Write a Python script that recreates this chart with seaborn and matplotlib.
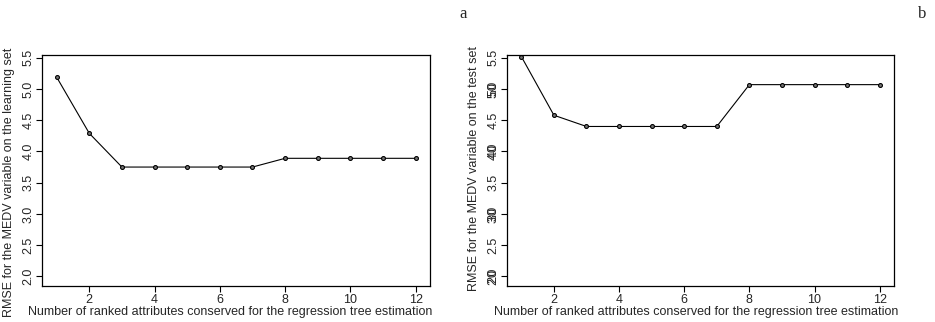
import matplotlib
matplotlib.use("Agg")
import matplotlib.pyplot as plt
import matplotlib.transforms as mtransforms
import seaborn as sns
import numpy as np
import pandas as pd

n_attributes = [1, 2, 3, 4, 5, 6, 7, 8, 9, 10, 11, 12]
rmse_learning = [5.19, 4.29, 3.75, 3.75, 3.75, 3.75, 3.75, 3.89, 3.89, 3.89, 3.89, 3.89]
rmse_test = [5.52, 4.58, 4.40, 4.40, 4.40, 4.40, 4.40, 5.07, 5.07, 5.07, 5.07, 5.07]
y_ticks = [2.0, 2.5, 3.0, 3.5, 4.0, 4.5, 5.0, 5.5]
y_ticklabels = ["2.0", "2.5", "3.0", "3.5", "4.0", "4.5", "5.0", "5.5"]
overlay_ticks = [2.0, 3.0, 4.0, 5.0]
overlay_labels = ["20", "30", "40", "50"]
x_ticks = [2, 4, 6, 8, 10, 12]
xlabel = "Number of ranked attributes conserved for the regression tree estimation"
ylabel_a = "RMSE for the MEDV variable on the learning set"
ylabel_b = "RMSE for the MEDV variable on the test set"

sns.set_style("ticks")
plt.rcParams["font.family"] = ["Liberation Sans", "DejaVu Sans"]

fig = plt.figure(figsize=(9.35, 3.22), dpi=100)
W, H = 935, 322
def axrect(l, r, t, b):
    return [l / W, (H - b) / H, (r - l) / W, (b - t) / H]

ax1 = fig.add_axes(axrect(42.3, 430, 55.3, 286.3))
ax2 = fig.add_axes(axrect(507, 894, 55.3, 286.3))

fs = 9
for ax, vals, ylab in [(ax1, rmse_learning, ylabel_a), (ax2, rmse_test, ylabel_b)]:
    df = pd.DataFrame({"n": n_attributes, "rmse": vals})
    sns.lineplot(data=df, x="n", y="rmse", ax=ax, color="black", linewidth=0.8,
                 marker="o", markersize=2.8, markerfacecolor="#777777",
                 markeredgecolor="black", markeredgewidth=0.8, clip_on=False)
    ax.set_xlim(0.56, 12.44)
    ax.set_ylim(1.84, 5.54)
    ax.set_xticks(x_ticks)
    ax.set_xticklabels([str(t) for t in x_ticks], fontsize=fs)
    ax.set_yticks(y_ticks)
    ax.set_yticklabels(y_ticklabels, fontsize=fs, rotation=90, va="center")
    ax.tick_params(axis="both", direction="out", length=4, width=0.8, pad=1.5, color="black")
    ax.set_xlabel(xlabel, fontsize=fs, labelpad=0)
    ax.set_ylabel(ylab, fontsize=fs)
    for s in ax.spines.values():
        s.set_visible(True)
        s.set_linewidth(0.9)
        s.set_color("black")

ax1.xaxis.set_label_coords(0.485, -0.085)
ax2.xaxis.set_label_coords(0.49, -0.085)
ax1.yaxis.set_label_coords(-0.071, 0.45)
ax2.yaxis.set_label_coords(-0.071, 0.51)

# overlapping second set of tick labels on the right panel
trans = mtransforms.offset_copy(ax2.get_yaxis_transform(), fig=fig, x=-5.5, units="points")
for yv, lab in zip(overlay_ticks, overlay_labels):
    ax2.text(0, yv, lab, transform=trans, rotation=90,
             ha="right", va="center", fontsize=fs)

fig.text(463 / W, 1 - 14 / H, "a", family=["Liberation Serif", "DejaVu Serif"],
         fontsize=12, ha="center", va="center")
fig.text(922 / W, 1 - 14 / H, "b", family=["Liberation Serif", "DejaVu Serif"],
         fontsize=12, ha="center", va="center")

fig.savefig("out.png", dpi=100)
